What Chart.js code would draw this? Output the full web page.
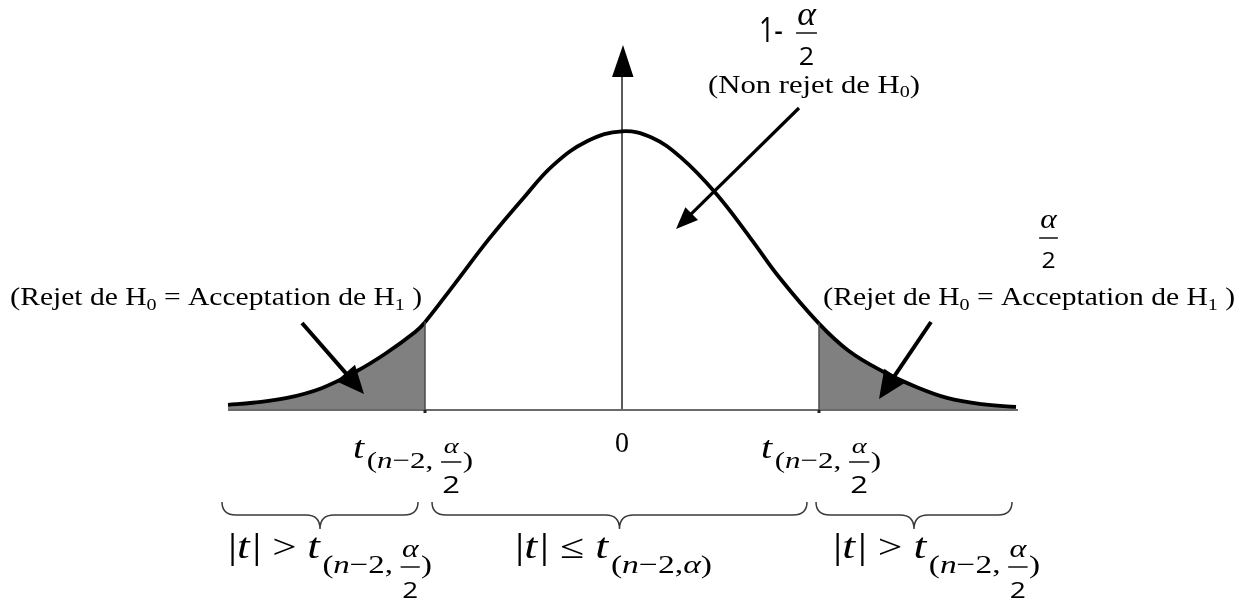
<!DOCTYPE html>
<html lang="fr">
<head>
<meta charset="UTF-8">
<title>Loi de Student - régions de rejet</title>
<script src="https://cdn.jsdelivr.net/npm/chart.js"></script>
<style>
  html, body { margin: 0; padding: 0; background: #fff; }
  #wrap { width: 1245px; height: 601px; }
</style>
</head>
<body>
<div id="wrap"><canvas id="tCanvas" width="1245" height="601"></canvas></div>
<script>
// valeurs de t et hauteur de la courbe
const tValues = [-4, -3.75, -3.4, -3.05, -2.7, -2.4, -2.1, -2, -1.7, -1.35, -1, -0.7, -0.35, 0,
                 0.3, 0.6, 0.95, 1.3, 1.6, 2, 2.3, 2.65, 3, 3.3, 3.65, 4];
const density = [0.006, 0.009, 0.016, 0.030, 0.054, 0.080, 0.111, 0.125, 0.180, 0.245, 0.304, 0.351, 0.386, 0.400,
                 0.391, 0.362, 0.311, 0.247, 0.189, 0.123, 0.084, 0.054, 0.031, 0.016, 0.007, 0.003];
const critT = 2;          // t(n-2, alpha/2)
const xRange = [-4, 4];
const yRange = [0, 0.52];

const SERIF = '"Liberation Serif", "Times New Roman", serif';
const SANS = '"Open Sans", "Liberation Sans", sans-serif';

const curvePts = tValues.map((x, i) => ({ x: x, y: density[i] }));

// ---- petits outils de dessin ----
function arrow(ctx, x1, y1, x2, y2, w, hl, hw) {
    let a = Math.atan2(y2 - y1, x2 - x1);
    let bx = x2 - hl * Math.cos(a), by = y2 - hl * Math.sin(a);
    ctx.strokeStyle = '#000';
    ctx.fillStyle = '#000';
    ctx.lineWidth = w;
    ctx.lineCap = 'butt';
    ctx.beginPath();
    ctx.moveTo(x1, y1);
    ctx.lineTo(bx + 2 * Math.cos(a), by + 2 * Math.sin(a));
    ctx.stroke();
    ctx.beginPath();
    ctx.moveTo(x2, y2);
    ctx.lineTo(bx + hw * Math.sin(a), by - hw * Math.cos(a));
    ctx.lineTo(bx - hw * Math.sin(a), by + hw * Math.cos(a));
    ctx.closePath();
    ctx.fill();
}

function brace(ctx, x1, x2, top, tip) {
    let mid = top + 13, r = 14, xm = (x1 + x2) / 2;
    ctx.strokeStyle = '#3a3a3a';
    ctx.lineWidth = 1.5;
    ctx.beginPath();
    ctx.moveTo(x1, top);
    ctx.quadraticCurveTo(x1, mid, x1 + r, mid);
    ctx.lineTo(xm - r, mid);
    ctx.quadraticCurveTo(xm, mid, xm, tip);
    ctx.quadraticCurveTo(xm, mid, xm + r, mid);
    ctx.lineTo(x2 - r, mid);
    ctx.quadraticCurveTo(x2, mid, x2, top);
    ctx.stroke();
}

function measureRuns(ctx, runs) {
    let w = 0;
    runs.forEach(r => {
        if (r.frac) {
            ctx.font = r.nf; let a = ctx.measureText(r.num).width;
            ctx.font = r.df; let b = ctx.measureText(r.den).width;
            r._w = Math.max(a, b) + 4;
        } else if (r.gap) {
            r._w = r.gap;
        } else {
            ctx.font = r.f; r._w = ctx.measureText(r.t).width;
        }
        w += r._w;
    });
    return w;
}

// écrit une suite de morceaux de texte à partir de (x, y), largeur totale imposée
function drawRuns(ctx, runs, x, y, width) {
    let w0 = measureRuns(ctx, runs);
    let k = width ? width / w0 : 1;
    ctx.save();
    ctx.translate(x, y);
    ctx.scale(k, 1);
    ctx.fillStyle = '#000';
    ctx.textBaseline = 'alphabetic';
    let cx = 0;
    runs.forEach(r => {
        if (r.frac) {
            let m = cx + r._w / 2;
            ctx.textAlign = 'center';
            ctx.font = r.nf; ctx.fillText(r.num, m, r.nDy);
            ctx.font = r.df; ctx.fillText(r.den, m, r.dDy);
            ctx.fillRect(cx + 1, r.bar - 0.7, r._w - 2, 1.4);
        } else if (!r.gap) {
            ctx.textAlign = 'left';
            ctx.font = r.f; ctx.fillText(r.t, cx, r.dy || 0);
        }
        cx += r._w;
    });
    ctx.restore();
}

function rejetRuns() {
    let f = '25px ' + SERIF, s = '17px ' + SERIF;
    return [{ t: '(', f: '26px ' + SERIF }, { t: 'Rejet de H', f: f }, { t: '0', f: s, dy: 5 },
            { t: ' = Acceptation de H', f: f }, { t: '1', f: s, dy: 5 }, { t: ' )', f: f }];
}

function tCritRuns(main, sub, sd, fs, ds, bar, nDy, dDy) {
    return [{ t: 't', f: 'italic ' + main + 'px ' + SERIF },
            { gap: 2 },
            { t: '(', f: sub + 'px ' + SERIF, dy: sd },
            { t: 'n', f: 'italic ' + sub + 'px ' + SERIF, dy: sd },
            { t: '\u22122,', f: sub + 'px ' + SERIF, dy: sd },
            { gap: 5 },
            { frac: true, num: '\u03b1', den: '2', nf: 'italic ' + fs + 'px ' + SERIF, df: ds + 'px ' + SANS,
              bar: bar, nDy: nDy, dDy: dDy },
            { t: ')', f: sub + 'px ' + SERIF, dy: sd }];
}

const schemaPlugin = {
    id: 'schema',
    afterDatasetsDraw(chart) {
        const ctx = chart.ctx;
        const xs = chart.scales.x, ys = chart.scales.y;
        const y0 = ys.getPixelForValue(0);
        const xc = xs.getPixelForValue(0);
        ctx.save();

        // axe horizontal
        ctx.strokeStyle = '#6a6a6a';
        ctx.lineWidth = 2;
        ctx.beginPath();
        ctx.moveTo(xs.getPixelForValue(xRange[0]), y0 + 1);
        ctx.lineTo(xs.getPixelForValue(xRange[1]) + 2, y0 + 1);
        ctx.stroke();

        // bornes des régions critiques
        [-critT, critT].forEach(c => {
            let px = xs.getPixelForValue(c);
            let py = ys.getPixelForValue(density[tValues.indexOf(c)]);
            ctx.strokeStyle = '#4a4a4a';
            ctx.lineWidth = 1.5;
            ctx.beginPath();
            ctx.moveTo(px, py);
            ctx.lineTo(px, y0 + 3);
            ctx.stroke();
            ctx.fillStyle = '#222';
            ctx.fillRect(px - 1.5, y0 + 1, 3, 3);
        });

        // axe vertical avec flèche
        ctx.strokeStyle = '#000';
        ctx.lineWidth = 1.3;
        ctx.beginPath();
        ctx.moveTo(xc, y0);
        ctx.lineTo(xc, 72);
        ctx.stroke();
        ctx.fillStyle = '#000';
        ctx.beginPath();
        ctx.moveTo(xc + 1, 45);
        ctx.lineTo(xc + 11.5, 77);
        ctx.lineTo(xc - 10, 77);
        ctx.closePath();
        ctx.fill();

        // flèches d'annotation
        arrow(ctx, 799, 108, 676, 229, 3.2, 22, 9);
        arrow(ctx, 302, 323, 364, 394, 4, 28, 12.5);
        arrow(ctx, 931, 322, 879, 399, 4, 28, 12.5);

        // accolades
        brace(ctx, 222, 418, 502, 529);
        brace(ctx, 432, 807, 502, 529);
        brace(ctx, 816, 1012, 502, 529);

        // textes
        drawRuns(ctx, rejetRuns(), 10, 305, 412);
        drawRuns(ctx, rejetRuns(), 823, 305, 412);
        drawRuns(ctx, [{ t: '(Non rejet de H', f: '26px ' + SERIF }, { t: '0', f: '17px ' + SERIF, dy: 4 },
                       { t: ')', f: '26px ' + SERIF }], 708, 93, 212);

        drawRuns(ctx, [{ t: '1-', f: '34px ' + SANS }], 759, 42, 24);
        drawRuns(ctx, [{ frac: true, num: '\u03b1', den: '2', nf: 'italic 33px ' + SERIF, df: '25px ' + SANS,
                         bar: 33, nDy: 25, dDy: 65 }], 795, 0, 23);
        drawRuns(ctx, [{ frac: true, num: '\u03b1', den: '2', nf: 'italic 28px ' + SERIF, df: '22px ' + SANS,
                         bar: 238, nDy: 228, dDy: 268 }], 1038, 0, 21);

        drawRuns(ctx, [{ t: '0', f: '30px ' + SERIF }], xc - 7, 452, 14);

        drawRuns(ctx, tCritRuns(31, 24, 10, 22, 24, 4, -5, 35), 353, 458, 120);
        drawRuns(ctx, tCritRuns(31, 24, 10, 22, 24, 4, -5, 35), 761, 458, 120);

        let abs = [{ t: '|', f: '36px ' + SERIF }, { t: 't', f: 'italic 36px ' + SERIF }, { gap: 2 },
                   { t: '|', f: '36px ' + SERIF }];
        let gt = abs.concat([{ t: ' > ', f: '34px ' + SERIF }]).concat(tCritRuns(36, 26, 15, 25, 22, 9, -1, 40));
        drawRuns(ctx, gt, 228, 558, 204);
        drawRuns(ctx, gt, 833, 558, 207);
        let le = abs.concat([{ t: ' \u2264 ', f: '34px ' + SERIF }, { t: 't', f: 'italic 36px ' + SERIF }, { gap: 2 },
                             { t: '(', f: '26px ' + SERIF, dy: 15 }, { t: 'n', f: 'italic 26px ' + SERIF, dy: 15 },
                             { t: '\u22122,', f: '26px ' + SERIF, dy: 15 }, { t: '\u03b1', f: 'italic 26px ' + SERIF, dy: 15 },
                             { t: ')', f: '26px ' + SERIF, dy: 15 }]);
        drawRuns(ctx, le, 515, 558, 197);

        ctx.restore();
    }
};

// zones de rejet : remplissage gris seulement pour |t| >= critT
function tailColor(c) {
    let a = c.p0.parsed.x, b = c.p1.parsed.x;
    return (b <= -critT || a >= critT) ? '#808080' : 'rgba(255,255,255,0)';
}

new Chart(document.getElementById('tCanvas').getContext('2d'), {
    type: 'line',
    data: {
        datasets: [
            {
                label: 'densité',
                data: curvePts,
                borderColor: '#000',
                borderWidth: 3.8,
                backgroundColor: 'rgba(255,255,255,0)',
                fill: 'origin',
                tension: 0.4,
                clip: false,
                segment: { backgroundColor: tailColor }
            }
        ]
    },
    options: {
        responsive: false,
        animation: false,
        events: [],
        layout: { padding: { left: 228, right: 229, top: 48, bottom: 192 } },
        elements: { point: { radius: 0 } },
        scales: {
            x: { type: 'linear', min: xRange[0], max: xRange[1], display: false },
            y: { min: yRange[0], max: yRange[1], display: false }
        },
        plugins: { legend: { display: false }, tooltip: { enabled: false } }
    },
    plugins: [schemaPlugin]
});
</script>
</body>
</html>
